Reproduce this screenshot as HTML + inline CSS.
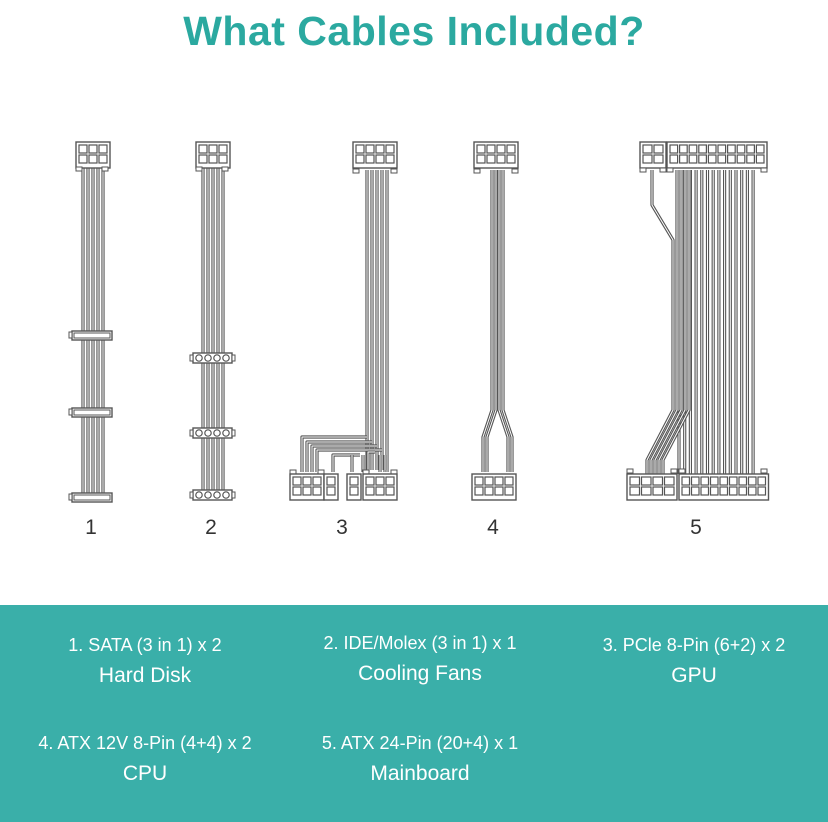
<!DOCTYPE html>
<html><head><meta charset="utf-8"><style>
body{margin:0;width:828px;height:822px;background:#fff;overflow:hidden;font-family:"Liberation Sans",sans-serif}
.t{position:absolute;width:100%;text-align:center;top:8px;font-size:41px;font-weight:bold;color:#2ba9a0;letter-spacing:0.5px}
.band{position:absolute;left:0;top:605px;width:828px;height:217px;background:#3aafa9}
.c{position:absolute;width:300px;text-align:center;color:#fff}
.a{font-size:18px;font-weight:300}
.b{font-size:21px;margin-top:8px}
.n{position:absolute;top:516px;font-size:21px;color:#333;width:30px;text-align:center}
</style></head><body>
<div class="t">What Cables Included?</div>
<svg id="s" width="828" height="600" style="position:absolute;left:0;top:0"></svg>
<div class="n" style="left:76px">1</div><div class="n" style="left:196px">2</div><div class="n" style="left:327px">3</div><div class="n" style="left:478px">4</div><div class="n" style="left:681px">5</div>
<div class="band">
<div class="c" style="left:-5px;top:30px"><div class="a">1. SATA (3 in 1) x 2</div><div class="b">Hard Disk</div></div>
<div class="c" style="left:270px;top:28px"><div class="a">2. IDE/Molex (3 in 1) x 1</div><div class="b">Cooling Fans</div></div>
<div class="c" style="left:544px;top:30px"><div class="a">3. PCle 8-Pin (6+2) x 2</div><div class="b">GPU</div></div>
<div class="c" style="left:-5px;top:128px"><div class="a">4. ATX 12V 8-Pin (4+4) x 2</div><div class="b">CPU</div></div>
<div class="c" style="left:270px;top:128px"><div class="a">5. ATX 24-Pin (20+4) x 1</div><div class="b">Mainboard</div></div>
</div>
<script>
var s=document.getElementById('s'),h='';
var K='#555';
function R(x,y,w,ht,sw){h+='<rect x="'+x+'" y="'+y+'" width="'+w+'" height="'+ht+'" fill="#fff" stroke="'+K+'" stroke-width="'+(sw||1.4)+'"/>';}
function C(x,y,r){h+='<circle cx="'+x+'" cy="'+y+'" r="'+r+'" fill="#fff" stroke="'+K+'" stroke-width="1.2"/>';}
function P(d){h+='<path d="'+d+'" fill="none" stroke="'+K+'" stroke-width="3.2" stroke-linejoin="round"/><path d="'+d+'" fill="none" stroke="#fff" stroke-width="1" stroke-linejoin="round"/>';}
function conn(x,y,cols,rows,cw){cw=cw||10;var w=cols*cw+4,ht=rows*10+6;R(x,y,w,ht);for(var i=0;i<cols;i++)for(var j=0;j<rows;j++)R(x+2+i*cw+1,y+3+j*10,cw-2,8,1.2);return w;}
function tabs(x,y,w){R(x,y,6,4,1);R(x+w-6,y,6,4,1);}
// wires first
function wires(xs,y1,y2){xs.forEach(function(x){P('M'+x+' '+y1+'V'+y2);});}
// cable1
wires([83,88,93,98,103],168,498);
// cable2
wires([203,208,213,218,223],168,496);
// cable3
wires([367,372,377,382,387],170,470);
P('M367 437H302V472');P('M372 442H307V472');P('M377 446H312V472');P('M382 450H317V472');
P('M360 455H333V472');P('M363 455V472');P('M352 455V472');
P('M375 452H368V472');P('M380 455V472');P('M385 455V472');P('M387 470V472');
// cable4
P('M492 170V410L483 437V472');P('M496 170V410L487 437V472');P('M499 170V410L508 437V472');P('M503 170V410L512 437V472');
// cable5
for(var i=0;i<14;i++){var x=679+i*5.7;P('M'+x+' 170V474');}
P('M652 170V205L673 240V410L647 460V474');
for(var i=1;i<5;i++)P('M'+(673+i*4)+' 170V410L'+(647+i*4)+' 460V474');
h+='';
// connectors
// 1
conn(76,142,3,2);tabs(76,167,32);
[331,408,493].forEach(function(y){R(72,y,40,9);R(74,y+2,36,5,1);R(69,y+1,3,6,1);});
// 2
conn(196,142,3,2);tabs(196,167,32);
[353,428,490].forEach(function(y){R(193,y,39,10);for(var i=0;i<4;i++)C(199+i*9,y+5,3.2);R(190,y+2,3,6,1);R(232,y+2,3,6,1);});
// 3
conn(353,142,4,2);tabs(353,169,44);
tabs(290,470,34);conn(290,474,3,2);conn(324,474,1,2,10);conn(347,474,1,2,10);tabs(363,470,34);conn(363,474,3,2);
// 4
conn(474,142,4,2);tabs(474,169,44);
conn(472,474,4,2);
// 5
conn(640,142,2,2,11);tabs(640,168,26);
conn(667,142,10,2,9.6);tabs(667,168,100);
tabs(627,469,50);conn(627,474,4,2,11.5);
tabs(679,469,88);conn(679,474,9,2,9.5);
s.innerHTML=h;
</script>
</body></html>
